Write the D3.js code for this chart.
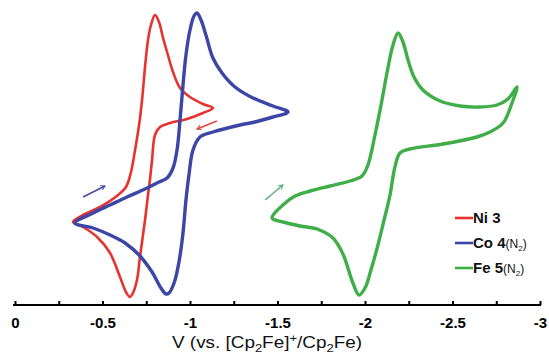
<!DOCTYPE html>
<html>
<head>
<meta charset="utf-8">
<script src="https://cdn.jsdelivr.net/npm/d3@7"></script>
<style>
  body { margin: 0; background: #fff; }
  svg { display: block; }
</style>
</head>
<body>
<div id="cv-plot"></div>
<script>
// potential (V vs Fc+/Fc) and relative current
const ni3 = [
  [-0.331, 83], [-0.389, 90], [-0.486, 98], [-0.589, 110], [-0.634, 118], [-0.663, 133],
  [-0.686, 155], [-0.709, 180], [-0.726, 205], [-0.743, 238], [-0.760, 265], [-0.777, 280],
  [-0.800, 290], [-0.823, 283], [-0.846, 267], [-0.869, 253], [-0.903, 233], [-0.943, 217],
  [-1.000, 208], [-1.074, 201], [-1.131, 197], [-1.074, 192], [-0.983, 186], [-0.886, 182],
  [-0.829, 178], [-0.800, 170], [-0.783, 145], [-0.771, 125], [-0.760, 110], [-0.743, 85],
  [-0.714, 48], [-0.697, 25], [-0.674, 12], [-0.657, 8], [-0.634, 13], [-0.600, 28],
  [-0.543, 52], [-0.469, 68], [-0.389, 78]
];
const co4 = [
  [-0.343, 82], [-0.446, 92], [-0.543, 100], [-0.640, 108], [-0.743, 116], [-0.811, 122],
  [-0.869, 127], [-0.903, 137], [-0.926, 155], [-0.943, 185], [-0.960, 220], [-0.977, 250],
  [-1.000, 275], [-1.023, 289], [-1.040, 292], [-1.063, 285], [-1.091, 270], [-1.131, 247],
  [-1.183, 232], [-1.257, 218], [-1.360, 207], [-1.474, 199], [-1.560, 193], [-1.474, 188],
  [-1.371, 183], [-1.286, 180], [-1.131, 173], [-1.057, 168], [-1.017, 155], [-0.994, 130],
  [-0.977, 105], [-0.960, 72], [-0.937, 43], [-0.909, 22], [-0.880, 12], [-0.863, 11],
  [-0.834, 17], [-0.783, 33], [-0.714, 49], [-0.629, 62], [-0.543, 70], [-0.446, 77]
];
const fe5 = [
  [-1.469, 87], [-1.531, 100], [-1.600, 109], [-1.686, 114], [-1.800, 119], [-1.914, 124],
  [-1.983, 129], [-2.017, 140], [-2.057, 170], [-2.097, 205], [-2.131, 237], [-2.160, 260],
  [-2.189, 272], [-2.217, 263], [-2.246, 245], [-2.280, 228], [-2.331, 215], [-2.429, 204],
  [-2.543, 199], [-2.657, 198], [-2.754, 200], [-2.817, 206], [-2.869, 218], [-2.840, 202],
  [-2.789, 182], [-2.714, 173], [-2.640, 168], [-2.446, 161], [-2.257, 156], [-2.200, 152],
  [-2.171, 138], [-2.143, 110], [-2.109, 85], [-2.074, 60], [-2.034, 35], [-2.000, 17],
  [-1.966, 10], [-1.931, 22], [-1.874, 51], [-1.817, 67], [-1.726, 76], [-1.629, 79],
  [-1.531, 83]
];

// scan direction arrows: [V start, i start, V end, i end]
const arrows = [
  { from: [-0.389, 108], to: [-0.514, 119], color: "#4b4c9c" },
  { from: [-1.154, 184], to: [-1.040, 176], color: "#e2483a" },
  { from: [-1.429, 105], to: [-1.531, 120], color: "#5fae80" }
];

const majorTicks = [0, -0.5, -1, -1.5, -2, -2.5, -3];
const tickLabels = ["0", "-0.5", "-1", "-1.5", "-2", "-2.5", "-3"];
const minorTicks = [-0.25, -0.75, -1.25, -1.75, -2.25, -2.75];

const series = [
  { name: "Ni 3", extra: null, color: "#e63330", width: 2.6, data: ni3 },
  { name: "Co 4", extra: "N", color: "#3b46a6", width: 3.4, data: co4 },
  { name: "Fe 5", extra: "N", color: "#3fae48", width: 3.4, data: fe5 }
];

const width = 549, height = 357;
const axisY = 305;

const svg = d3.select("#cv-plot")
  .append("svg")
  .attr("width", width)
  .attr("height", height)
  .style("font-family", "'Liberation Sans', Arial, sans-serif");

const xScale = d3.scaleLinear().domain([0, -3]).range([15, 540]);
const yScale = d3.scaleLinear().domain([0, 300]).range([axisY, 5]);

const line = d3.line()
  .x(d => xScale(d[0]))
  .y(d => yScale(d[1]))
  .curve(d3.curveCatmullRomClosed.alpha(0.5));

// CV loops
svg.append("g")
  .selectAll("path")
  .data(series)
  .enter()
  .append("path")
  .attr("d", d => line(d.data))
  .attr("fill", "none")
  .attr("stroke", d => d.color)
  .attr("stroke-width", d => d.width)
  .attr("stroke-linejoin", "round");

// arrows
const defs = svg.append("defs");
arrows.forEach((a, i) => {
  defs.append("marker")
    .attr("id", "arrow" + i)
    .attr("viewBox", "0 0 10 10")
    .attr("refX", 8)
    .attr("refY", 5)
    .attr("markerWidth", 6)
    .attr("markerHeight", 6)
    .attr("markerUnits", "userSpaceOnUse")
    .attr("orient", "auto")
    .append("path")
    .attr("d", "M1,1 L8,5 L1,9")
    .attr("fill", "none")
    .attr("stroke", a.color)
    .attr("stroke-width", 1.8);
});

svg.append("g")
  .selectAll("line")
  .data(arrows)
  .enter()
  .append("line")
  .attr("x1", d => xScale(d.from[0]))
  .attr("y1", d => yScale(d.from[1]))
  .attr("x2", d => xScale(d.to[0]))
  .attr("y2", d => yScale(d.to[1]))
  .attr("stroke", d => d.color)
  .attr("stroke-width", 1.6)
  .attr("marker-end", (d, i) => "url(#arrow" + i + ")");

// x axis, ticks pointing up
svg.append("g")
  .attr("transform", "translate(0," + axisY + ")")
  .call(d3.axisBottom(xScale).tickValues(minorTicks).tickFormat("").tickSizeInner(-4).tickSizeOuter(0))
  .call(g => g.select(".domain").remove())
  .selectAll("line")
  .attr("stroke", "#000")
  .attr("stroke-width", 2);

const xAxis = svg.append("g")
  .attr("transform", "translate(0," + axisY + ")")
  .call(d3.axisBottom(xScale)
    .tickValues(majorTicks)
    .tickFormat((d, i) => tickLabels[i])
    .tickSizeInner(-4)
    .tickSizeOuter(0)
    .tickPadding(12));

xAxis.select(".domain")
  .attr("stroke", "#000")
  .attr("stroke-width", 2.2)
  .attr("d", "M" + (xScale(0) - 2) + ",0H" + (xScale(-3) + 1));
xAxis.selectAll(".tick line")
  .attr("stroke", "#000")
  .attr("stroke-width", 2);
xAxis.selectAll(".tick text")
  .attr("fill", "#000")
  .style("font-size", "15px")
  .style("font-weight", "bold")
  .style("font-family", "'Liberation Sans', Arial, sans-serif");

// axis title
const title = svg.append("text")
  .attr("x", 267)
  .attr("y", 348)
  .attr("text-anchor", "middle")
  .attr("textLength", 190)
  .attr("lengthAdjust", "spacingAndGlyphs")
  .style("font-size", "16px")
  .attr("fill", "#111");
title.append("tspan").text("V (vs. [Cp");
title.append("tspan").attr("dy", 4).style("font-size", "11px").text("2");
title.append("tspan").attr("dy", -4).text("Fe]");
title.append("tspan").attr("dy", -6).style("font-size", "11px").text("+");
title.append("tspan").attr("dy", 6).text("/Cp");
title.append("tspan").attr("dy", 4).style("font-size", "11px").text("2");
title.append("tspan").attr("dy", -4).text("Fe)");

// legend
const legend = svg.append("g");
series.forEach((s, i) => {
  const ly = 218 + i * 25;
  legend.append("line")
    .attr("x1", 455).attr("x2", 473)
    .attr("y1", ly).attr("y2", ly)
    .attr("stroke", s.color)
    .attr("stroke-width", 2.6);
  const t = legend.append("text")
    .attr("x", 473)
    .attr("y", ly + 5)
    .attr("fill", "#111");
  t.append("tspan").style("font-size", "15px").style("font-weight", "bold").text(s.name);
  if (s.extra) {
    t.append("tspan").style("font-size", "12px").text("(" + s.extra);
    t.append("tspan").attr("dy", 3).style("font-size", "8px").text("2");
    t.append("tspan").attr("dy", -3).style("font-size", "12px").text(")");
  }
});
</script>
</body>
</html>
